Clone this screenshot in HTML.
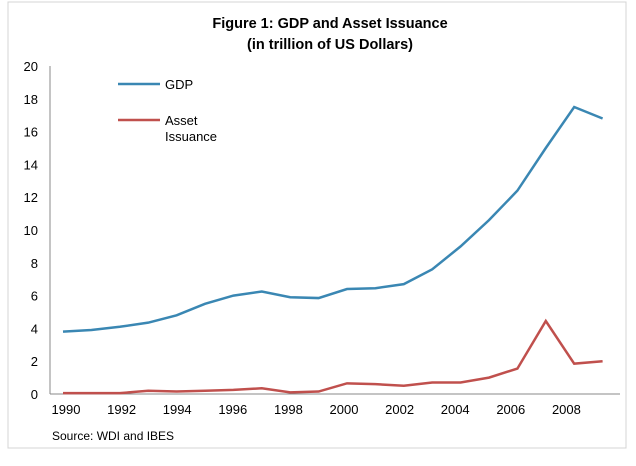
<!DOCTYPE html>
<html><head><meta charset="utf-8"><style>
body{margin:0;background:#fff;}
svg{display:block;font-family:"Liberation Sans",sans-serif;}
</style></head><body>
<svg id="c" width="636" height="466">
<rect x="8" y="2" width="618" height="446" fill="#fff" stroke="#d4d4d4"/>
<text x="330" y="28" text-anchor="middle" font-size="14.5" font-weight="bold">Figure 1: GDP and Asset Issuance</text>
<text x="330" y="49" text-anchor="middle" font-size="14.5" font-weight="bold">(in trillion of US Dollars)</text>
<text x="52" y="440" font-size="12">Source: WDI and IBES</text>
<g id="axes"></g><g id="series"></g>
<g>
<line x1="118" y1="84" x2="160" y2="84" stroke="#3a87b3" stroke-width="2.5"/>
<text x="165" y="89" font-size="13">GDP</text>
<line x1="118" y1="120" x2="160" y2="120" stroke="#c0504d" stroke-width="2.5"/>
<text x="165" y="125" font-size="13">Asset</text>
<text x="165" y="141" font-size="13">Issuance</text>
</g>
</svg>
<script>
const years=[1990,1991,1992,1993,1994,1995,1996,1997,1998,1999,2000,2001,2002,2003,2004,2005,2006,2007,2008,2009];
const gdp=[3.8,3.9,4.1,4.35,4.8,5.5,6.0,6.25,5.9,5.85,6.4,6.45,6.7,7.6,9.0,10.6,12.4,15.0,17.5,16.8];
const asset=[0.05,0.05,0.05,0.2,0.15,0.2,0.25,0.35,0.1,0.15,0.65,0.6,0.5,0.7,0.7,1.0,1.55,4.45,1.85,2.0];
const yTicks=[0,2,4,6,8,10,12,14,16,18,20];
const xLabels=[1990,1992,1994,1996,1998,2000,2002,2004,2006,2008];
const NS="http://www.w3.org/2000/svg";
const x=v=>63+(v-1990)*28.4, y=v=>394-v*16.4;
const xl=v=>66+(v-1990)*27.8;
const ax=document.getElementById('axes'), se=document.getElementById('series');
function mk(p,t,a){const e=document.createElementNS(NS,t);for(const k in a)e.setAttribute(k,a[k]);p.appendChild(e);return e;}
let l=mk(ax,'line',{x1:50,y1:66,x2:50,y2:394,stroke:'#888'});


l=mk(ax,'line',{x1:50,y1:394,x2:620,y2:394,stroke:'#888'});


yTicks.forEach(v=>{const t=mk(ax,'text',{x:38,y:y(v)+5,'text-anchor':'end','font-size':13});t.textContent=v;

});
xLabels.forEach(v=>{const t=mk(ax,'text',{x:xl(v),y:414,'text-anchor':'middle','font-size':13});t.textContent=v;

});
function line(d,c,n){const p=mk(se,'polyline',{points:d.map((v,i)=>x(years[i])+','+y(v)).join(' '),fill:'none',stroke:c,'stroke-width':2.5});

}
line(gdp,'#3a87b3','gdp-line');
line(asset,'#c0504d','asset-issuance-line');
</script>
</body></html>
